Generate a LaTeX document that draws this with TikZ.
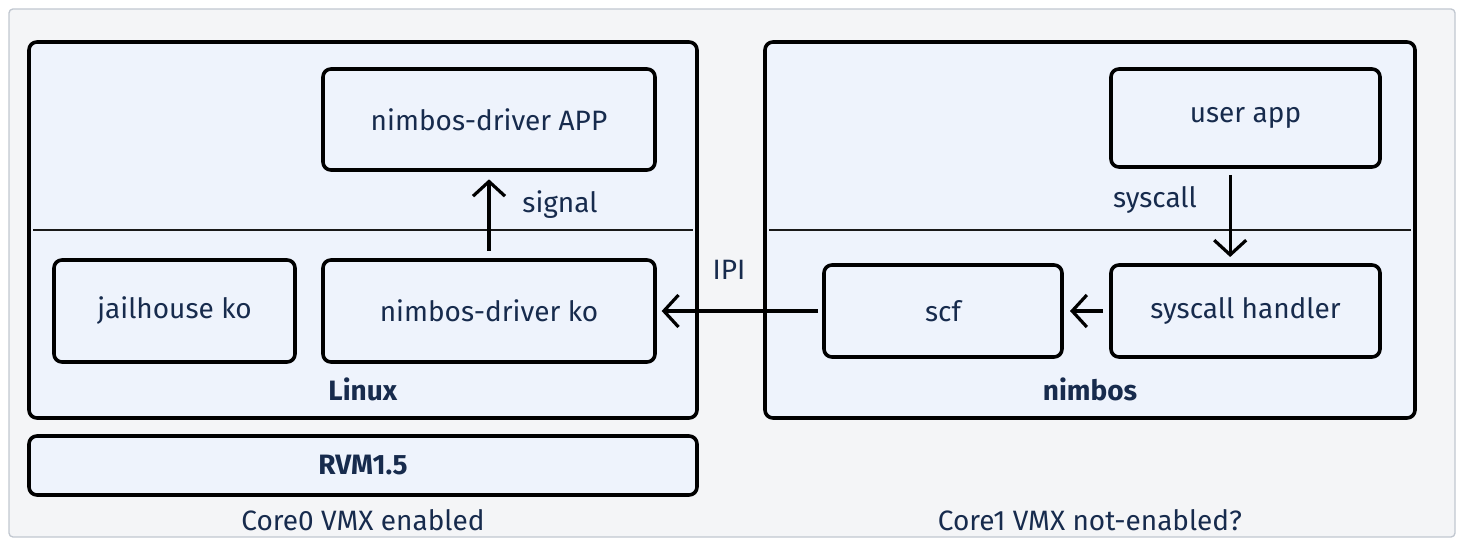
\documentclass[tikz,border=0pt]{standalone}
\usepackage{fontspec}
\setmainfont{Fira Sans}
\usetikzlibrary{arrows.meta}
\definecolor{pagebg}{HTML}{F4F5F7}
\definecolor{pageline}{HTML}{C1C7D0}
\definecolor{boxbg}{HTML}{EEF3FC}
\definecolor{ink}{HTML}{172B4D}

\begin{document}
\begin{tikzpicture}[x=0.75pt,y=-0.75pt,
    every node/.style={font=\fontsize{21}{25}\selectfont,text=ink},
    layer/.style={draw=black,line width=2.7pt,fill=boxbg,rounded corners=6pt,inner sep=0pt,outer sep=0pt},
    part/.style={layer},
    divider/.style={line width=1.9pt,draw=black!90},
    flow/.style={line width=2.4pt,-{Straight Barb[length=11pt,width=24pt,line width=2.4pt]}}]
  \useasboundingbox (0,0) rectangle (1464,545);
  \node[draw=pageline,fill=pagebg,line width=1pt,rounded corners=3pt,minimum width=1084.5pt,minimum height=396pt] (page) at (732,273) {};

  \node[layer,minimum width=501pt,minimum height=282pt] (linux) at (363,230) {};
  \node[layer,minimum width=487.5pt,minimum height=282pt] (nimbos) at (1090,230) {};
  \node[layer,minimum width=501pt,minimum height=44.25pt] (rvm) at (363,465.5) {\textbf{RVM1.5}};

  \coordinate (cut) at (0,230);
  \draw[divider] ([xshift=3pt]linux.west |- cut) -- ([xshift=-3pt]linux.east |- cut);
  \draw[divider] ([xshift=3pt]nimbos.west |- cut) -- ([xshift=-3pt]nimbos.east |- cut);

  \node[part,minimum width=249pt,minimum height=75.75pt] (app) at (489,119.5) {nimbos-driver APP};
  \node[part,minimum width=249pt,minimum height=76.5pt] (ko) at (489,311) {nimbos-driver ko};
  \node[part,minimum width=180.75pt,minimum height=76.5pt] (jail) at (174.5,311) {jailhouse ko};
  \node[part,minimum width=201.75pt,minimum height=73.5pt] (user) at (1245.5,118) {user app};
  \node[part,minimum width=201.75pt,minimum height=69pt] (handler) at (1245.5,311) {syscall handler};
  \node[part,minimum width=178.5pt,minimum height=69pt] (scf) at (943,311) {scf};

  \node (signal) at (560,205) {signal};
  \node (syscall) at (1155,200) {syscall};
  \node (ipi) at (729,270) {IPI};
  \node (linuxname) at (363,389) {\textbf{Linux}};
  \node (nimbosname) at (1090,389) {\textbf{nimbos}};
  \node (core0) at (363,520) {Core0 VMX enabled};
  \node (core1) at (1090,520) {Core1 VMX not-enabled?};

  \draw[flow,shorten <=7pt,shorten >=7pt] (ko.north) -- (app.south);
  \draw[flow,shorten <=6pt,shorten >=6pt] ([xshift=-11.5pt]user.south) -- ([xshift=-11.5pt]handler.north);
  \draw[flow,shorten <=6pt,shorten >=6pt] (handler.west) -- (scf.east);
  \draw[flow,shorten <=4.5pt,shorten >=5pt] (scf.west) -- (ko.east);
\end{tikzpicture}
\end{document}
